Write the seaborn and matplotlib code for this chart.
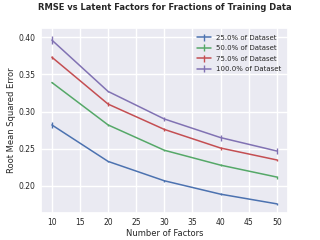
import matplotlib
matplotlib.use('Agg')
import matplotlib.pyplot as plt
import seaborn as sns

factors = [10, 20, 30, 40, 50]
labels = ['25.0% of Dataset', '50.0% of Dataset', '75.0% of Dataset', '100.0% of Dataset']
rmse_25 = [0.282, 0.233, 0.207, 0.189, 0.176]
rmse_50 = [0.339, 0.282, 0.248, 0.228, 0.212]
rmse_75 = [0.373, 0.310, 0.276, 0.251, 0.235]
rmse_100 = [0.396, 0.327, 0.290, 0.265, 0.247]
err_25 = [0.004, 0.001, 0.001, 0.001, 0.001]
err_50 = [0.001, 0.001, 0.001, 0.001, 0.002]
err_75 = [0.002, 0.003, 0.002, 0.002, 0.001]
err_100 = [0.005, 0.001, 0.003, 0.004, 0.004]

sns.set_theme(style='darkgrid')
plt.rcParams['font.family'] = ['DejaVu Sans']
pal = sns.color_palette('deep')
colors = [pal[0], pal[2], pal[3], pal[4]]

fig = plt.figure(figsize=(3.2, 2.4), dpi=100)
ax = fig.add_axes([0.127, 0.1125, 0.773, 0.771])

series = [(rmse_25, err_25), (rmse_50, err_50), (rmse_75, err_75), (rmse_100, err_100)]
for (vals, errs), lab, c in zip(series, labels, colors):
    ax.errorbar(factors, vals, yerr=errs, color=c, label=lab, linewidth=1.1, elinewidth=1.0)

ax.set_xticks([10, 15, 20, 25, 30, 35, 40, 45, 50])
ax.set_yticks([0.20, 0.25, 0.30, 0.35, 0.40])
ax.tick_params(labelsize=5.5, pad=3.5, length=0)
ax.set_xlabel('Number of Factors', fontsize=6, labelpad=1.5)
ax.set_ylabel('Root Mean Squared Error', fontsize=6, labelpad=2)
ax.set_title('RMSE vs Latent Factors for Fractions of Training Data', fontsize=6.0,
             fontweight='bold', pad=13)
ax.legend(loc='upper right', fontsize=5, frameon=False, handlelength=2.0,
          labelspacing=0.65, borderaxespad=0.55)

fig.savefig('out.png', dpi=100)
